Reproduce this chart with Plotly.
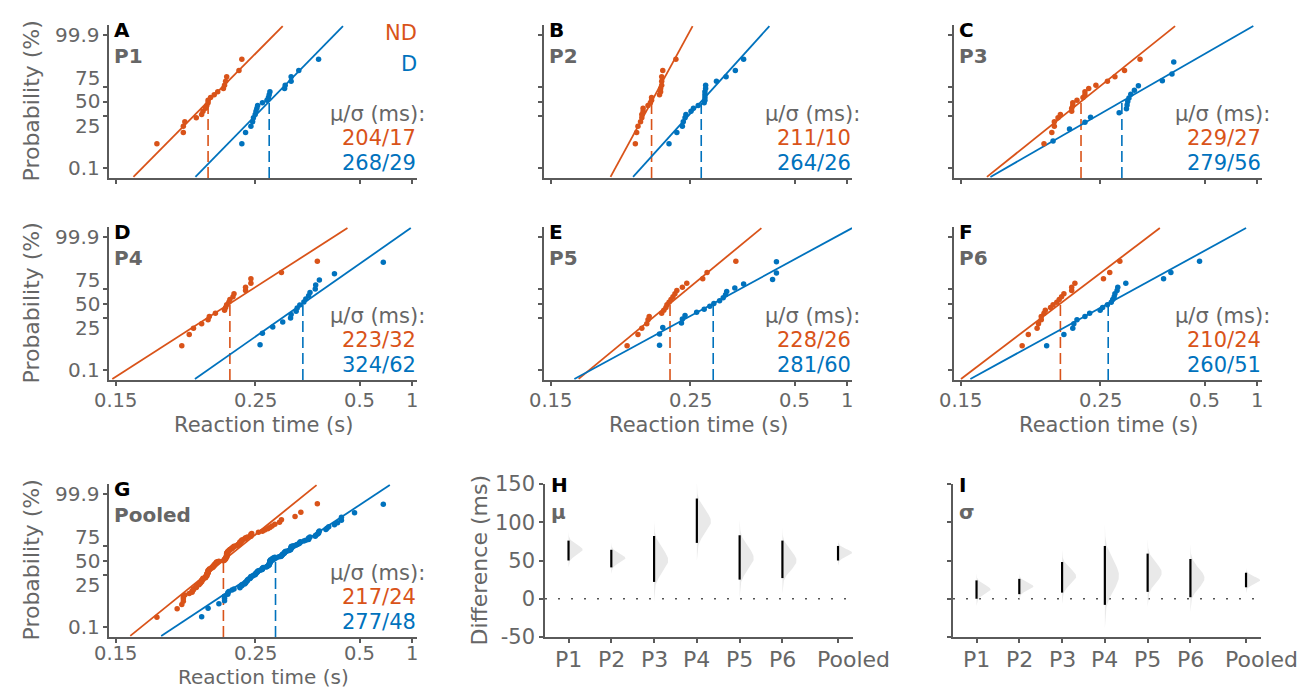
import math
from statistics import NormalDist
import plotly.graph_objects as go

# ---------------- data ----------------
participants = ["P1", "P2", "P3", "P4", "P5", "P6"]
panel_letters = ["A", "B", "C", "D", "E", "F", "G"]

# reaction times (ms), one list per participant / condition (ND = red, D = blue)
nd_P1 = [170, 186, 186, 187, 195, 199, 200, 202, 203, 204, 204, 206, 209, 212, 217, 218, 219, 220, 232, 235]
d_P1 = [235, 239, 245, 247, 248, 250, 251, 252, 253, 259, 265, 267, 268, 269, 291, 292, 302, 302, 316, 359]
nd_P2 = [198, 199, 200, 202, 203, 203, 204, 204, 208, 210, 211, 211, 218, 219, 219, 220, 220, 220, 221, 234]
d_P2 = [227, 235, 241, 242, 244, 245, 251, 254, 260, 268, 269, 269, 269, 269, 270, 270, 286, 302, 319, 336]
nd_P3 = [197, 203, 205, 205, 208, 210, 220, 220, 221, 221, 225, 231, 233, 233, 237, 245, 259, 269, 283, 309]
d_P3 = [204, 218, 233, 239, 275, 286, 287, 288, 290, 293, 299, 306, 356, 381, 386]
nd_P4 = [185, 190, 193, 199, 204, 205, 210, 218, 219, 220, 222, 223, 226, 227, 239, 239, 245, 245, 286, 356]
d_P4 = [256, 259, 273, 288, 301, 302, 311, 313, 318, 326, 330, 336, 339, 351, 352, 361, 403, 647]
nd_P5 = [192, 200, 203, 207, 208, 209, 220, 222, 224, 225, 227, 229, 231, 233, 235, 241, 246, 266, 272, 320]
d_P5 = [218, 218, 221, 240, 241, 244, 258, 268, 276, 282, 291, 297, 301, 303, 318, 336, 413, 426, 426]
nd_P6 = [182, 186, 192, 193, 195, 195, 197, 198, 202, 204, 207, 209, 211, 213, 220, 220, 223, 254, 262, 276]
d_P6 = [199, 213, 221, 222, 225, 233, 238, 250, 253, 259, 264, 266, 268, 269, 272, 273, 285, 359, 378, 477]

# fitted reciprobit parameters (ms) for P1..P6, Pooled
mu_nd = [204, 211, 229, 223, 228, 210, 217]
sd_nd = [17, 10, 27, 32, 26, 24, 24]
mu_d = [268, 264, 279, 324, 281, 260, 277]
sd_d = [29, 26, 56, 62, 60, 51, 48]

# difference (D - ND) confidence intervals (ms)
ci_mu_lo = [50, 41, 22, 73, 25, 27, 50]
ci_mu_hi = [76, 64, 82, 131, 83, 76, 69]
ci_sd_lo = [0, 6, 8, -8, 9, 2, 15]
ci_sd_hi = [24, 26, 48, 69, 59, 52, 34]

diff_labels = participants + ["Pooled"]
diff_pos = [1, 2, 3, 4, 5, 6, 7.3]
diff_label_nudge = [0, 0, 0, 0, 0, 0, 15]   # px; "Pooled" label sits right of its tick

prob_ticks = [0.1, 25, 50, 75, 99.9]
prob_ticktext = ["0.1", "25", "50", "75", "99.9"]
prob_label_nudge = [0, 10, 0, -9, 0]     # px offsets used in the original to avoid overlap
rt_ticks = [0.15, 0.25, 0.5, 1]
rt_ticktext = ["0.15", "0.25", "0.5", "1"]
diff_ticks = [-50, 0, 50, 100, 150]
diff_ticktext = ["-50", "0", "50", "100", "150"]

# ---------------- style / layout ----------------
W, H = 1306, 688
RED = "#D95319"
BLUE = "#0072BD"
GREY = "#666666"
AXC = "#5a5a5a"
FONT = "DejaVu Sans, Liberation Sans, Arial, sans-serif"
N = NormalDist()

cols = [(101, 409), (536, 844), (946, 1254)]
rows = [(17, 170), (219, 372), (476, 629)]
XR = [-6.8, -0.9]
YR = [-3.55, 3.55]


def px_x(p):
    return p / W


def px_y(p):
    return 1 - p / H


def probit_points(rts):
    s = sorted(rts)
    n = len(s)
    xs = [-1000.0 / r for r in s]
    ys = [N.inv_cdf((i + 0.5) / n) for i in range(n)]
    return xs, ys


fig = go.Figure()
layout = dict(template="none", width=W, height=H, margin=dict(l=0, r=0, t=0, b=0, pad=0),
              autosize=False, paper_bgcolor="white", plot_bgcolor="white", showlegend=False,
              font=dict(family=FONT, color=GREY))
annotations = []


def ann(text, x, y, size=21, color=GREY, xanchor="center", yanchor="middle", angle=0):
    annotations.append(dict(text=text, x=px_x(x), y=px_y(y), xref="paper", yref="paper",
                            showarrow=False, xanchor=xanchor, yanchor=yanchor, borderpad=0,
                            textangle=angle, font=dict(size=size, color=color, family=FONT)))


def axis_common():
    return dict(ticks="outside", ticklen=4, tickwidth=1.5, tickcolor=AXC, showline=True,
                linecolor=AXC, linewidth=1.5, showgrid=False, zeroline=False, automargin=False,
                tickfont=dict(size=20, color=GREY, family=FONT), fixedrange=True)


nd_sets = [nd_P1, nd_P2, nd_P3, nd_P4, nd_P5, nd_P6]
d_sets = [d_P1, d_P2, d_P3, d_P4, d_P5, d_P6]
pooled_nd = [v for s in nd_sets for v in s]
pooled_d = [v for s in d_sets for v in s]
all_nd = nd_sets + [pooled_nd]
all_d = d_sets + [pooled_d]
panel_names = participants + ["Pooled"]


def z_to_px(z, row):
    top, bot = rows[row]
    return bot - (z - YR[0]) / (YR[1] - YR[0]) * (bot - top)


def rx_to_px(v, col):
    left, right = cols[col]
    return left + (v - XR[0]) / (XR[1] - XR[0]) * (right - left)


for idx in range(7):
    k = idx + 1
    row, col = idx // 3, idx % 3
    xn = "x" if k == 1 else f"x{k}"
    yn = "y" if k == 1 else f"y{k}"
    xa = axis_common()
    xa.update(domain=[px_x(cols[col][0]), px_x(cols[col][1])], range=XR, anchor=yn,
              tickvals=[-1.0 / t for t in rt_ticks], ticktext=rt_ticktext,
              showticklabels=False)
    ya = axis_common()
    ya.update(domain=[px_y(rows[row][1]), px_y(rows[row][0])], range=YR, anchor=xn,
              tickvals=[N.inv_cdf(p / 100) for p in prob_ticks], ticktext=prob_ticktext,
              showticklabels=False)
    layout["xaxis" if k == 1 else f"xaxis{k}"] = xa
    layout["yaxis" if k == 1 else f"yaxis{k}"] = ya

    for mus, sds, colr in ((mu_nd, sd_nd, RED), (mu_d, sd_d, BLUE)):
        m = mus[idx] / 1000.0
        s = sds[idx] / 1000.0
        zz = [-3.5, 3.5]
        fig.add_trace(go.Scatter(x=[-1 / m + z * s / m ** 2 for z in zz], y=zz, mode="lines",
                                 line=dict(color=colr, width=1.8), xaxis=xn, yaxis=yn,
                                 hoverinfo="skip"))
        fig.add_trace(go.Scatter(x=[-1 / m, -1 / m], y=[YR[0], 0], mode="lines",
                                 line=dict(color=colr, width=1.6, dash="11px,5px"),
                                 xaxis=xn, yaxis=yn, hoverinfo="skip"))
    for data, colr in ((all_nd[idx], RED), (all_d[idx], BLUE)):
        xs, ys = probit_points(data)
        fig.add_trace(go.Scatter(x=xs, y=ys, mode="markers",
                                 marker=dict(color=colr, size=5.5, line=dict(width=0)),
                                 xaxis=xn, yaxis=yn))

    top, bot = rows[row]
    left, right = cols[col]
    ann(f"<b>{panel_letters[idx]}</b>", left + 4, top + 5, size=20, color="black", xanchor="left")
    ann(f"<b>{panel_names[idx]}</b>", left + 4, top + 31, size=20, color=GREY, xanchor="left")
    ann("μ/σ (ms):", right + 9, bot - 64, size=21, color=GREY, xanchor="right")
    ann(f"{mu_nd[idx]}/{sd_nd[idx]}", right, bot - 40, size=21, color=RED, xanchor="right")
    ann(f"{mu_d[idx]}/{sd_d[idx]}", right, bot - 15.5, size=21, color=BLUE, xanchor="right")
    if col == 0:
        ann("Probability (%)", 23, (top + bot) / 2, size=22, color=GREY, angle=-90)
        for p, t, nud in zip(prob_ticks, prob_ticktext, prob_label_nudge):
            ann(t, left - 8, z_to_px(N.inv_cdf(p / 100), row) + nud, size=20, color=GREY,
                xanchor="right")
    if row > 0:
        for tv, tt in zip(rt_ticks, rt_ticktext):
            ann(tt, rx_to_px(-1.0 / tv, col), bot + (20 if row == 1 else 16.5), size=19.5,
                color=GREY)
        ann("Reaction time (s)", (left + right) / 2, 417 if row == 1 else 669,
            size=21 if row == 1 else 20, color=GREY)

# legend text in panel A
ann("ND", cols[0][1] + 1, rows[0][0] + 8, size=21, color=RED, xanchor="right")
ann("D", cols[0][1] + 1, rows[0][0] + 39, size=21, color=BLUE, xanchor="right")

# ---------------- difference panels H, I ----------------
VW = 0.33
DXR = [0.45, 7.65]
diff_specs = [
    (8, (537, 845), mu_nd, mu_d, ci_mu_lo, ci_mu_hi, "H", "μ", True),
    (9, (945, 1253), sd_nd, sd_d, ci_sd_lo, ci_sd_hi, "I", "σ", False),
]
for k, (l, r), a_nd, a_d, lo, hi, letter, sym, ylab in diff_specs:
    xn, yn = f"x{k}", f"y{k}"
    xa = axis_common()
    xa.update(domain=[px_x(l), px_x(r)], range=DXR, anchor=yn, tickvals=diff_pos,
              ticktext=diff_labels, showticklabels=False)
    ya = axis_common()
    ya.update(domain=[px_y(rows[2][1]), px_y(rows[2][0])], range=[-50, 150], anchor=xn,
              tickvals=diff_ticks, ticktext=diff_ticktext, showticklabels=ylab,
              tickfont=dict(size=21, color=GREY, family=FONT))
    layout[f"xaxis{k}"] = xa
    layout[f"yaxis{k}"] = ya

    fig.add_trace(go.Scatter(x=DXR, y=[0, 0], mode="lines",
                             line=dict(color="#555555", width=1.5, dash="2px,11px"),
                             xaxis=xn, yaxis=yn, hoverinfo="skip"))
    scale = (r - l) / (DXR[1] - DXR[0])
    for i, pos in enumerate(diff_pos):
        center = a_d[i] - a_nd[i]
        sd = (hi[i] - lo[i]) / 3.92
        ts = [t / 20 for t in range(-70, 71)]
        ys = [center + t * sd for t in ts]
        xs = [pos + VW * math.exp(-0.5 * t * t) for t in ts]
        fig.add_trace(go.Scatter(x=[pos] + xs + [pos], y=[ys[0]] + ys + [ys[-1]], mode="lines",
                                 fill="toself", fillcolor="#e9e9e9", line=dict(width=0),
                                 xaxis=xn, yaxis=yn, hoverinfo="skip"))
        fig.add_trace(go.Scatter(x=[pos, pos], y=[lo[i], hi[i]], mode="lines",
                                 line=dict(color="black", width=2.2), xaxis=xn, yaxis=yn,
                                 hoverinfo="skip"))
        ann(diff_labels[i], l + (pos - DXR[0]) * scale + diff_label_nudge[i], rows[2][1] + 22,
            size=22, color=GREY)
    ann(f"<b>{letter}</b>", l + 5, rows[2][0] + 1, size=20, color="black", xanchor="left")
    ann(f"<b>{sym}</b>", l + 5, rows[2][0] + 28, size=20, color=GREY, xanchor="left")

ann("Difference (ms)", 471, (rows[2][0] + rows[2][1]) / 2, size=22, color=GREY, angle=-90)

layout["annotations"] = annotations
fig.update_layout(**layout)
fig.write_html("out.html")
